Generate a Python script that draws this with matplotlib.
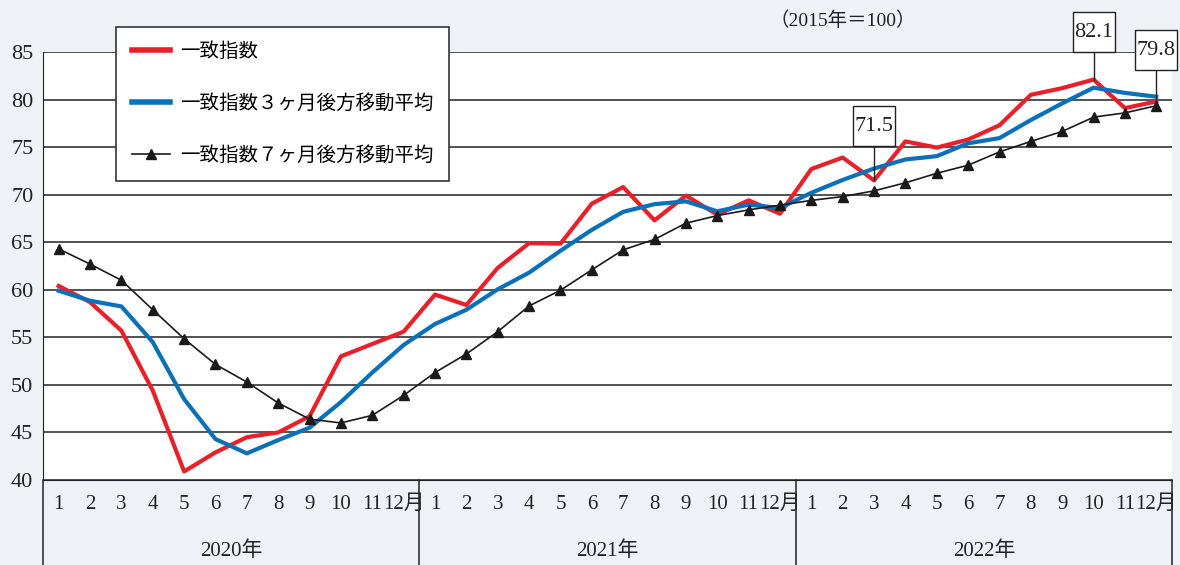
import numpy as np
import matplotlib
matplotlib.use("Agg")
import matplotlib.pyplot as plt
import matplotlib.transforms as mtransforms
from matplotlib.lines import Line2D
from matplotlib.patches import Rectangle

plt.rcParams['font.family'] = ['Liberation Serif', 'Noto Sans CJK JP', 'DejaVu Sans']

# 2020/1 .. 2022/12
coincident = [60.4, 58.7, 55.7, 49.4, 40.9, 42.9, 44.5, 45.0, 46.7, 53.0, 54.3, 55.6,
              59.5, 58.4, 62.3, 64.9, 64.85, 69.05, 70.8, 67.3, 69.9, 67.9, 69.4, 68.0,
              72.7, 73.9, 71.5, 75.6, 74.95, 75.8, 77.3, 80.5, 81.2, 82.1, 79.1, 79.8]
ma3 = [59.9, 58.85, 58.25, 54.5, 48.5, 44.3, 42.8, 44.2, 45.5, 48.2, 51.3, 54.2,
       56.4, 57.9, 60.05, 61.8, 64.1, 66.3, 68.2, 69.0, 69.3, 68.25, 68.95, 68.6,
       70.2, 71.55, 72.75, 73.7, 74.05, 75.4, 75.95, 77.85, 79.6, 81.25, 80.7, 80.3]
ma7 = [64.3, 62.7, 61.0, 57.9, 54.85, 52.15, 50.3, 48.1, 46.4, 46.0, 46.8, 48.9,
       51.3, 53.25, 55.6, 58.3, 59.95, 62.1, 64.2, 65.3, 67.0, 67.8, 68.4, 68.9,
       69.4, 69.8, 70.4, 71.25, 72.25, 73.1, 74.5, 75.6, 76.65, 78.15, 78.6, 79.35]
month_labels = [str(m) for m in range(1, 12)] + ['12月']
years = ['2020年', '2021年', '2022年']
labels = ['一致指数', '一致指数３ヶ月後方移動平均', '一致指数７ヶ月後方移動平均']
callouts = [(26, 71.5, 77.2), (33, 82.1, 87.1), (35, 79.8, 85.2)]

x = np.arange(len(coincident))

fig = plt.figure(figsize=(11.8, 5.65), dpi=100, facecolor='#eef1f6')
ax = fig.add_axes([43/1180, 1 - 480/565, 1129/1180, 428/565])
ax.set_facecolor('white')

ax.set_xlim(-0.5, 35.5)
ax.set_ylim(40, 85)
ax.set_yticks(np.arange(40, 86, 5))
ax.yaxis.grid(True, color='#222222', lw=1.1)
ax.set_axisbelow(True)
for s in ['top', 'right']:
    ax.spines[s].set_visible(False)
ax.spines['bottom'].set_color('#222222')
ax.spines['left'].set_color('#222222')
ax.spines['left'].set_bounds(40, 85)
ax.tick_params(axis='y', length=0, labelsize=16, pad=7, colors='#222222')
ax.set_xticks([])

ax.plot(x, coincident, color='#e8202a', lw=3, zorder=3)
ax.plot(x, ma3, color='#0a70b8', lw=3, zorder=4)
ax.plot(x, ma7, color='#1a1a1a', lw=1.2, marker='^', ms=7.5, zorder=5)

# month / year table under the axis
tr = ax.get_xaxis_transform()
for i in x:
    ax.text(i, -0.058, month_labels[i % 12], transform=tr, ha='center', va='center',
            fontsize=15, color='#222222')
for k, yr in enumerate(years):
    ax.text(12 * k + 5.5, -0.167, yr, transform=tr, ha='center', va='center',
            fontsize=15, color='#222222')
for b in [-0.5, 11.5, 23.5, 35.5]:
    ax.plot([b, b], [0, -0.25], transform=tr, color='#222222', lw=1.1, clip_on=False)

# value callouts: box 42x40 px, leader line down to the point
px_per_unit = 428 / 45
for xi, val, ty in callouts:
    box_tr = fig.dpi_scale_trans + mtransforms.ScaledTranslation(xi, ty, ax.transData)
    ax.add_patch(Rectangle((-0.21, -0.20), 0.42, 0.40, transform=box_tr, fc='white',
                           ec='#222222', lw=1, clip_on=False, zorder=6))
    ax.text(xi, ty, f'{val}', ha='center', va='center', fontsize=16,
            color='#222222', zorder=7, clip_on=False)
    ax.plot([xi, xi], [val, ty - 20 / px_per_unit], color='#222222', lw=1,
            zorder=5.5, clip_on=False)

fig.text(843/1180, 1 - 21/565, '（2015年＝100）', ha='center', va='center',
         fontsize=14, color='#222222')

handles = [Line2D([], [], color='#e8202a', lw=4),
           Line2D([], [], color='#0a70b8', lw=4),
           Line2D([], [], color='#1a1a1a', lw=1.2, marker='^', ms=7.5)]
leg = ax.legend(handles, labels, loc='upper left',
                bbox_to_anchor=(116/1180, 1 - 27/565), bbox_transform=fig.transFigure,
                fancybox=False, framealpha=1, edgecolor='#333333', fontsize=14,
                labelspacing=1.7, handlelength=2.0, handletextpad=0.5,
                borderpad=0.8, borderaxespad=0)
leg.get_frame().set_linewidth(1.2)
leg.set_zorder(10)

fig.savefig('out.png', dpi=100, facecolor=fig.get_facecolor())
